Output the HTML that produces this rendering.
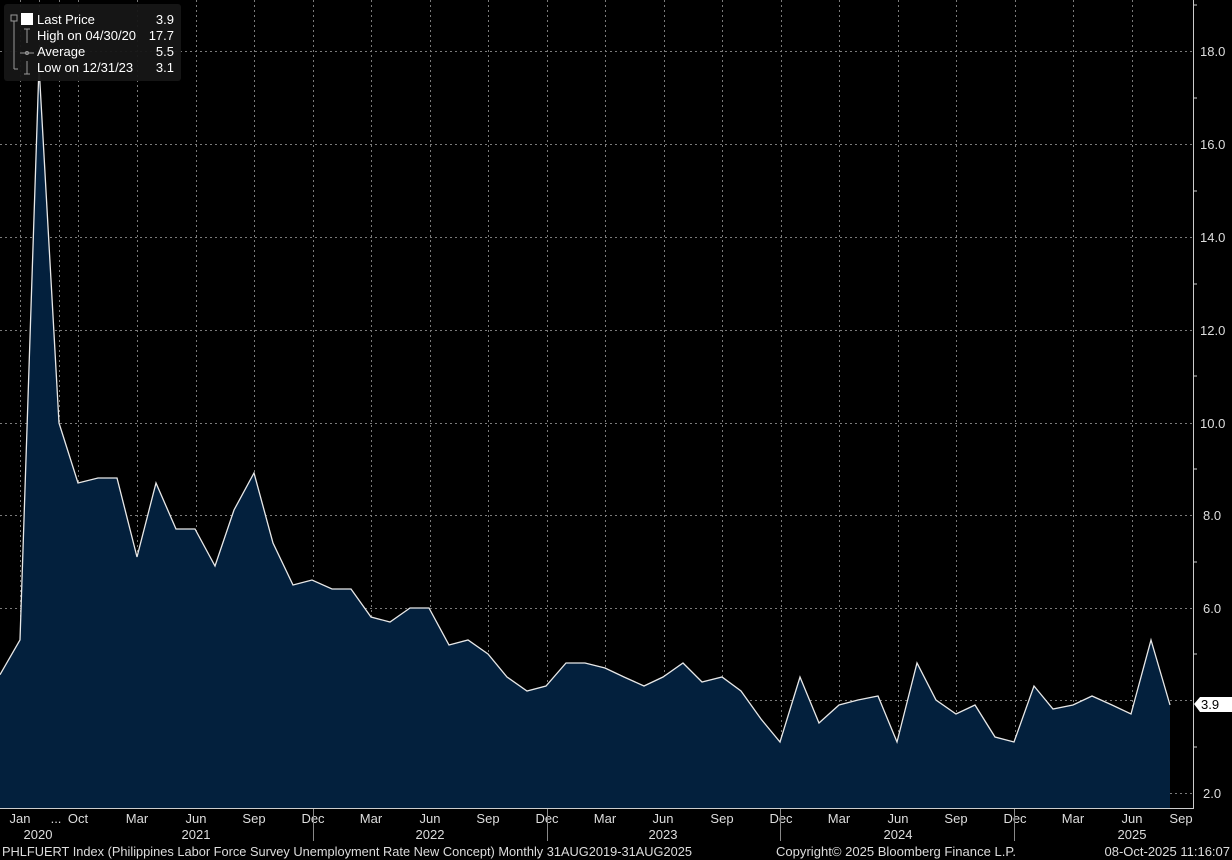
<!DOCTYPE html>
<html><head><meta charset="utf-8"><style>
html,body{margin:0;padding:0;background:#000;width:1232px;height:860px;overflow:hidden}
svg{display:block;font-family:"Liberation Sans",Arial,sans-serif}
</style></head><body>
<svg width="1232" height="860" viewBox="0 0 1232 860" xmlns="http://www.w3.org/2000/svg">
<rect width="1232" height="860" fill="#000"/>
<g stroke="#7a7a7a" stroke-width="1" stroke-dasharray="2,3" fill="none">
<line x1="0" y1="51.5" x2="1193" y2="51.5"/><line x1="0" y1="144.5" x2="1193" y2="144.5"/>
<line x1="0" y1="237.5" x2="1193" y2="237.5"/><line x1="0" y1="330.5" x2="1193" y2="330.5"/>
<line x1="0" y1="423.5" x2="1193" y2="423.5"/><line x1="0" y1="515.5" x2="1193" y2="515.5"/>
<line x1="0" y1="608.5" x2="1193" y2="608.5"/><line x1="0" y1="700.5" x2="1193" y2="700.5"/>
<line x1="0" y1="793.5" x2="1193" y2="793.5"/>
<line x1="20.5" y1="0" x2="20.5" y2="808"/><line x1="39.5" y1="0" x2="39.5" y2="808"/>
<line x1="59.5" y1="0" x2="59.5" y2="808"/><line x1="78.5" y1="0" x2="78.5" y2="808"/>
<line x1="137.5" y1="0" x2="137.5" y2="808"/><line x1="196.5" y1="0" x2="196.5" y2="808"/>
<line x1="254.5" y1="0" x2="254.5" y2="808"/><line x1="313.5" y1="0" x2="313.5" y2="808"/>
<line x1="371.5" y1="0" x2="371.5" y2="808"/><line x1="430.5" y1="0" x2="430.5" y2="808"/>
<line x1="488.5" y1="0" x2="488.5" y2="808"/><line x1="547.5" y1="0" x2="547.5" y2="808"/>
<line x1="605.5" y1="0" x2="605.5" y2="808"/><line x1="664.5" y1="0" x2="664.5" y2="808"/>
<line x1="722.5" y1="0" x2="722.5" y2="808"/><line x1="781.5" y1="0" x2="781.5" y2="808"/>
<line x1="839.5" y1="0" x2="839.5" y2="808"/><line x1="898.5" y1="0" x2="898.5" y2="808"/>
<line x1="956.5" y1="0" x2="956.5" y2="808"/><line x1="1015.5" y1="0" x2="1015.5" y2="808"/>
<line x1="1073.5" y1="0" x2="1073.5" y2="808"/><line x1="1132.5" y1="0" x2="1132.5" y2="808"/>
</g>
<path fill="#03203d" stroke="none" d="M0,793 L0,674.7 L20,640 L39,66 L59,423 L78,483 L98,478 L117,478 L137,557 L156,483 L176,529 L195,529 L215,566 L234,510 L254,473 L273,543 L293,585 L312,580 L332,589 L351,589 L371,617 L390,622 L410,608 L429,608 L449,645 L468,640 L488,654 L507,677 L527,691 L546,686 L566,663 L585,663 L605,668 L624,677 L644,686 L663,677 L683,663 L702,682 L722,677 L741,691 L761,719 L780,742 L800,677 L819,723 L839,705 L858,700 L878,696 L897,742 L917,663 L936,700 L956,714 L975,705 L995,737 L1014,742 L1034,686 L1053,709 L1073,705 L1092,696 L1112,705 L1131,714 L1151,640 L1170,705 L1170,808 L0,808 Z"/>
<polyline fill="none" stroke="#e8e8e8" stroke-width="1.3" points="0,674.7 20,640 39,66 59,423 78,483 98,478 117,478 137,557 156,483 176,529 195,529 215,566 234,510 254,473 273,543 293,585 312,580 332,589 351,589 371,617 390,622 410,608 429,608 449,645 468,640 488,654 507,677 527,691 546,686 566,663 585,663 605,668 624,677 644,686 663,677 683,663 702,682 722,677 741,691 761,719 780,742 800,677 819,723 839,705 858,700 878,696 897,742 917,663 936,700 956,714 975,705 995,737 1014,742 1034,686 1053,709 1073,705 1092,696 1112,705 1131,714 1151,640 1170,705"/>
<line x1="1193.5" y1="0" x2="1193.5" y2="809" stroke="#ccc"/>
<line x1="0" y1="808.5" x2="1194" y2="808.5" stroke="#ccc"/>
<g stroke="#ccc">
<line x1="1193" y1="98" x2="1197" y2="98"/><line x1="1193" y1="191" x2="1197" y2="191"/><line x1="1193" y1="284" x2="1197" y2="284"/><line x1="1193" y1="376" x2="1197" y2="376"/><line x1="1193" y1="469" x2="1197" y2="469"/><line x1="1193" y1="562" x2="1197" y2="562"/><line x1="1193" y1="654" x2="1197" y2="654"/><line x1="1193" y1="747" x2="1197" y2="747"/>
<line x1="1193" y1="5" x2="1197" y2="5"/>
</g>
<g fill="#ddd" font-size="13">
<text x="1200" y="56">18.0</text><text x="1200" y="149">16.0</text><text x="1200" y="242">14.0</text><text x="1200" y="335">12.0</text><text x="1200" y="428">10.0</text><text x="1203" y="520">8.0</text><text x="1203" y="613">6.0</text><text x="1203" y="798">2.0</text>
</g>
<polygon points="1194,704 1200,697 1232,697 1232,712 1200,712" fill="#fff"/>
<text x="1201" y="709" font-size="13" fill="#000">3.9</text>
<g fill="#ddd" font-size="13" text-anchor="middle">
<text x="20" y="823">Jan</text><text x="56" y="823">...</text><text x="78" y="823">Oct</text>
<text x="137" y="823">Mar</text><text x="196" y="823">Jun</text><text x="254" y="823">Sep</text><text x="313" y="823">Dec</text>
<text x="371" y="823">Mar</text><text x="430" y="823">Jun</text><text x="488" y="823">Sep</text><text x="547" y="823">Dec</text>
<text x="605" y="823">Mar</text><text x="663" y="823">Jun</text><text x="722" y="823">Sep</text><text x="781" y="823">Dec</text>
<text x="839" y="823">Mar</text><text x="898" y="823">Jun</text><text x="956" y="823">Sep</text><text x="1015" y="823">Dec</text>
<text x="1073" y="823">Mar</text><text x="1132" y="823">Jun</text><text x="1181" y="823">Sep</text>
<text x="38" y="839">2020</text><text x="196" y="839">2021</text><text x="430" y="839">2022</text><text x="663" y="839">2023</text><text x="898" y="839">2024</text><text x="1132" y="839">2025</text>
</g>
<g stroke="#888"><line x1="313.5" y1="809" x2="313.5" y2="841"/><line x1="547.5" y1="809" x2="547.5" y2="841"/><line x1="780.5" y1="809" x2="780.5" y2="841"/><line x1="1014.5" y1="809" x2="1014.5" y2="841"/></g>
<g fill="#ddd" font-size="13">
<text x="2" y="856" textLength="690" lengthAdjust="spacingAndGlyphs">PHLFUERT Index (Philippines Labor Force Survey Unemployment Rate New Concept) Monthly 31AUG2019-31AUG2025</text>
<text x="776" y="856" textLength="240" lengthAdjust="spacingAndGlyphs">Copyright© 2025 Bloomberg Finance L.P.</text>
<text x="1230" y="856" text-anchor="end">08-Oct-2025 11:16:07</text>
</g>
<rect x="4" y="4" width="177" height="77" rx="3" fill="#161616" opacity="0.95"/>
<g stroke="#999" fill="none"><rect x="11" y="15" width="6" height="6"/><line x1="14" y1="21" x2="14" y2="69"/><line x1="14" y1="69" x2="18" y2="69"/>
<line x1="24" y1="29" x2="30" y2="29"/><line x1="27" y1="29" x2="27" y2="43"/><line x1="20" y1="53" x2="34" y2="53"/><circle cx="27" cy="53" r="1.5"/><line x1="27" y1="61" x2="27" y2="74"/><line x1="24" y1="74" x2="30" y2="74"/></g>
<rect x="21" y="13" width="12" height="12" fill="#fff"/>
<g fill="#fff" font-size="13">
<text x="37" y="24">Last Price</text><text x="37" y="40">High on 04/30/20</text><text x="37" y="56">Average</text><text x="37" y="72">Low on 12/31/23</text>
<text x="174" y="24" text-anchor="end">3.9</text><text x="174" y="40" text-anchor="end">17.7</text><text x="174" y="56" text-anchor="end">5.5</text><text x="174" y="72" text-anchor="end">3.1</text>
</g>
</svg>
</body></html>
